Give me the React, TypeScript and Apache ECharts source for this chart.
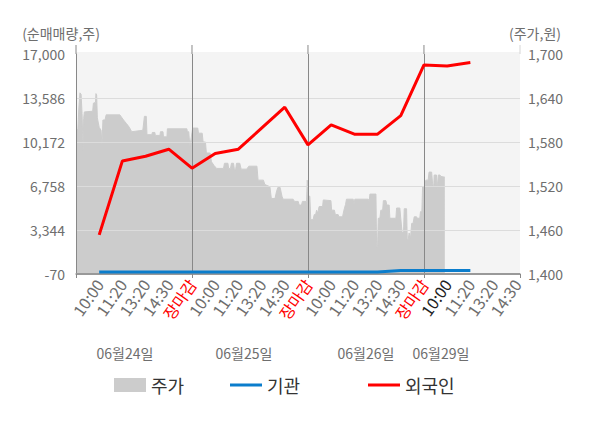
import React, { useEffect, useRef } from "react";
import * as echarts from "echarts";

// ---- data ----
const timeLabels = [
  "", "10:00", "11:20", "13:20", "14:30", "장마감",
  "10:00", "11:20", "13:20", "14:30", "장마감",
  "10:00", "11:20", "13:20", "14:30", "장마감",
  "10:00", "11:20", "13:20", "14:30",
];
const dateLabels = ["06월24일", "06월25일", "06월26일", "06월29일"];
const leftTicks = [-70, 3344, 6758, 10172, 13586, 17000];
const rightTicks = [1400, 1460, 1520, 1580, 1640, 1700];

// 외국인 순매매량 at x = 1..17
const foreignValues = [2964, 8705, 9070, 9613, 8139, 9287, 9613, 11243, 12872, 9947, 11499, 10777, 10777, 12220, 16154, 16077, 16333];
// 기관 순매매량 at x = 1..17
const instValues = [90, 90, 90, 90, 90, 90, 90, 90, 90, 90, 90, 90, 90, 200, 200, 200, 200];

// 주가 (x position in slot units, price)
const priceDay1 = [
  [0.0, 1597], [0.08, 1597], [0.12, 1625], [0.17, 1647], [0.22, 1645], [0.26, 1619], [0.29, 1619], [0.31, 1569],
  [0.33, 1612], [0.36, 1621], [0.72, 1622], [0.75, 1633], [0.84, 1634], [0.86, 1646], [0.89, 1644], [0.92, 1613],
  [1.0, 1600], [1.08, 1596], [1.12, 1576], [1.16, 1610], [1.25, 1610], [1.3, 1617], [1.89, 1617], [2.05, 1610],
  [2.18, 1605], [2.3, 1600], [2.4, 1594], [2.88, 1596], [2.95, 1615], [3.03, 1615], [3.06, 1590], [3.27, 1590],
  [3.29, 1593], [3.4, 1593], [3.42, 1589], [3.62, 1589], [3.64, 1594], [3.75, 1594], [3.77, 1587], [3.92, 1587],
  [3.94, 1598], [4.78, 1598], [4.8, 1594], [4.86, 1594], [4.91, 1574],
];
const priceDay2 = [
  [5.03, 1599], [5.25, 1599], [5.28, 1592], [5.44, 1592], [5.48, 1580], [5.58, 1580], [5.62, 1565], [5.78, 1565],
  [5.84, 1553], [5.95, 1548], [6.06, 1544], [6.36, 1544], [6.4, 1551], [6.55, 1551], [6.58, 1544], [6.66, 1544],
  [6.7, 1551], [6.79, 1551], [6.83, 1542], [6.88, 1542], [6.92, 1551], [7.06, 1551], [7.12, 1543], [7.36, 1543],
  [7.45, 1547], [7.8, 1547], [7.85, 1528], [8.08, 1528], [8.14, 1522], [8.36, 1519], [8.42, 1503], [8.58, 1503],
  [8.64, 1512], [8.7, 1518], [8.8, 1518], [8.88, 1506], [8.93, 1502], [9.36, 1502], [9.42, 1499], [9.58, 1499],
  [9.62, 1494], [9.72, 1494], [9.76, 1499], [9.94, 1499],
];
const priceDay3 = [
  [9.97, 1528], [10.0, 1528], [10.03, 1506], [10.08, 1506], [10.12, 1474], [10.22, 1474], [10.27, 1481], [10.33, 1481],
  [10.37, 1487], [10.42, 1483], [10.48, 1492], [10.63, 1492], [10.66, 1501], [10.99, 1500], [11.02, 1487], [11.14, 1487],
  [11.18, 1481], [11.3, 1481], [11.34, 1478], [11.49, 1478], [11.55, 1487], [11.62, 1495], [11.66, 1502], [11.95, 1502],
  [11.98, 1494], [12.02, 1502], [12.6, 1502], [12.64, 1499], [12.67, 1509], [12.93, 1509], [12.96, 1437], [13.0, 1437],
  [13.03, 1476], [13.1, 1476], [13.14, 1487], [13.22, 1487], [13.25, 1500], [13.36, 1500], [13.4, 1494], [13.5, 1494],
  [13.53, 1476], [13.79, 1476], [13.82, 1490], [13.96, 1490], [14.0, 1476], [14.06, 1456], [14.12, 1458], [14.15, 1489],
  [14.25, 1489], [14.28, 1447], [14.32, 1447], [14.36, 1456], [14.42, 1449], [14.47, 1469], [14.53, 1469], [14.58, 1478],
  [14.68, 1478], [14.71, 1476], [14.82, 1476], [14.85, 1485], [14.91, 1485],
];
const priceDay4 = [
  [14.94, 1519], [15.04, 1519], [15.08, 1528], [15.18, 1528], [15.22, 1539], [15.33, 1539], [15.37, 1524], [15.42, 1516],
  [15.44, 1535], [15.54, 1535], [15.57, 1516], [15.6, 1516], [15.62, 1535], [15.69, 1535], [15.73, 1533], [15.9, 1532],
];

const X_MAX = 19.14;
const FONT = "'Noto Sans CJK KR', 'Noto Sans', sans-serif";

export default function App() {
  const ref = useRef<HTMLDivElement>(null);

  useEffect(() => {
    if (!ref.current) return;
    const chart = echarts.init(ref.current, undefined, { renderer: "svg" });

    const priceData = [...priceDay1, ...priceDay2, ...priceDay3, ...priceDay4];
    const foreignData = foreignValues.map((v, i) => [i + 1, v]);
    const instData = instValues.map((v, i) => [i + 1, v]);

    const isInt = (v: number) => Math.abs(v - Math.round(v)) < 1e-6;

    const legendBase = {
      top: 376,
      padding: 0,
      itemWidth: 32,
      textStyle: { fontSize: 18, color: "#333", fontFamily: FONT },
      icon: "rect",
    };

    const option: any = {
      animation: false,
      textStyle: { fontFamily: FONT },
      grid: {
        left: 76,
        right: 80,
        top: 54,
        bottom: 154,
        show: true,
        backgroundColor: "#f4f4f4",
        borderWidth: 0,
      },
      legend: [
        { ...legendBase, left: 114, itemHeight: 14, data: ["주가"] },
        { ...legendBase, left: 230, itemHeight: 3, data: ["기관"] },
        { ...legendBase, left: 368, itemHeight: 3, data: ["외국인"] },
      ],
      xAxis: [
        {
          type: "value",
          min: 0,
          max: X_MAX,
          interval: 1,
          position: "bottom",
          z: 2,
          axisLine: { show: true, onZero: true, lineStyle: { color: "#999", width: 1 } },
          axisTick: { show: false },
          splitLine: { show: false },
          axisLabel: {
            rotate: 55,
            margin: 7,
            fontSize: 16,
            fontFamily: FONT,
            formatter: (v: number) => (isInt(v) ? timeLabels[Math.round(v)] ?? "" : ""),
            color: (v: any) => {
              const i = Math.round(Number(v));
              if (timeLabels[i] === "장마감") return "#ff0000";
              if (i === 16) return "#222";
              return "#6e6e6e";
            },
          },
        },
        {
          type: "value",
          min: 0,
          max: X_MAX,
          interval: 5,
          position: "bottom",
          z: 2,
          axisLine: { show: true, onZero: false, lineStyle: { color: "#999", width: 1 } },
          axisTick: { show: true, length: 4, lineStyle: { color: "#888" } },
          axisLabel: { show: false },
          splitLine: { show: true, showMaxLine: false, lineStyle: { color: "#888", width: 1 } },
        },
      ],
      yAxis: [
        {
          type: "value",
          min: leftTicks[0],
          max: leftTicks[leftTicks.length - 1],
          interval: leftTicks[1] - leftTicks[0],
          position: "left",
          z: 2,
          axisLine: { show: true, lineStyle: { color: "#888" } },
          axisTick: { show: false },
          splitLine: { show: true, showMinLine: false, showMaxLine: false, lineStyle: { color: "#dcdcdc", width: 1 } },
          axisLabel: {
            fontSize: 14,
            color: "#6e6e6e",
            margin: 11,
            fontFamily: FONT,
            formatter: (v: number) => v.toLocaleString("en-US"),
          },
        },
        {
          type: "value",
          min: rightTicks[0],
          max: rightTicks[rightTicks.length - 1],
          interval: rightTicks[1] - rightTicks[0],
          position: "right",
          axisLine: { show: true, lineStyle: { color: "#d6d6d6" } },
          axisTick: { show: false },
          splitLine: { show: false },
          axisLabel: {
            fontSize: 14,
            color: "#6e6e6e",
            margin: 8,
            fontFamily: FONT,
            formatter: (v: number) => v.toLocaleString("en-US"),
          },
        },
      ],
      series: [
        {
          name: "주가",
          type: "line",
          xAxisIndex: 0,
          yAxisIndex: 1,
          data: priceData,
          showSymbol: false,
          symbol: "none",
          z: 1,
          itemStyle: { color: "#cccccc" },
          lineStyle: { color: "#cccccc", width: 1 },
          areaStyle: { color: "#cccccc", opacity: 1 },
        },
        {
          name: "기관",
          type: "line",
          xAxisIndex: 0,
          yAxisIndex: 0,
          data: instData,
          symbol: "none",
          z: 3,
          itemStyle: { color: "#0b7dcc" },
          lineStyle: { color: "#0b7dcc", width: 3 },
        },
        {
          name: "외국인",
          type: "line",
          xAxisIndex: 0,
          yAxisIndex: 0,
          data: foreignData,
          symbol: "none",
          z: 4,
          itemStyle: { color: "#ff0000" },
          lineStyle: { color: "#ff0000", width: 3 },
        },
      ],
      graphic: [
        {
          type: "text",
          x: 61,
          y: 33,
          style: { text: "(순매매량,주)", fill: "#6e6e6e", fontSize: 14, fontFamily: FONT, align: "center", verticalAlign: "middle" },
        },
        {
          type: "text",
          x: 535,
          y: 33,
          style: { text: "(주가,원)", fill: "#6e6e6e", fontSize: 14, fontFamily: FONT, align: "center", verticalAlign: "middle" },
        },
        ...dateLabels.map((t, i) => ({
          type: "text",
          x: [125, 244, 366, 441][i],
          y: 353,
          style: { text: t, fill: "#6e6e6e", fontSize: 14, fontFamily: FONT, align: "center", verticalAlign: "middle" },
        })),
      ],
    };

    chart.setOption(option);

    // extend the vertical axis/divider lines a little above the plot, as in the reference
    const topY = chart.convertToPixel({ yAxisIndex: 0 }, leftTicks[leftTicks.length - 1]) as number;
    const xs = [0, 5, 10, 15].map((v) => chart.convertToPixel({ xAxisIndex: 1 }, v) as number);
    const xr = chart.convertToPixel({ xAxisIndex: 1 }, X_MAX) as number;
    const extra: any[] = [
      {
        type: "rect",
        shape: { x: xs[0], y: topY - 2, width: xr - xs[0], height: 2 },
        style: { fill: "#f4f4f4" },
        silent: true,
      },
      ...xs.map((x) => ({
        type: "line",
        shape: { x1: x, y1: topY - 9, x2: x, y2: topY },
        style: { stroke: "#888", lineWidth: 1 },
        silent: true,
      })),
      {
        type: "line",
        shape: { x1: xr, y1: topY - 9, x2: xr, y2: topY },
        style: { stroke: "#d6d6d6", lineWidth: 1 },
        silent: true,
      },
    ];
    chart.setOption({ graphic: [...option.graphic, ...extra] });

    return () => chart.dispose();
  }, []);

  return (
    <div
      ref={ref}
      style={{ position: "fixed", left: 0, top: 0, width: 600, height: 428, background: "#fff" }}
    />
  );
}
